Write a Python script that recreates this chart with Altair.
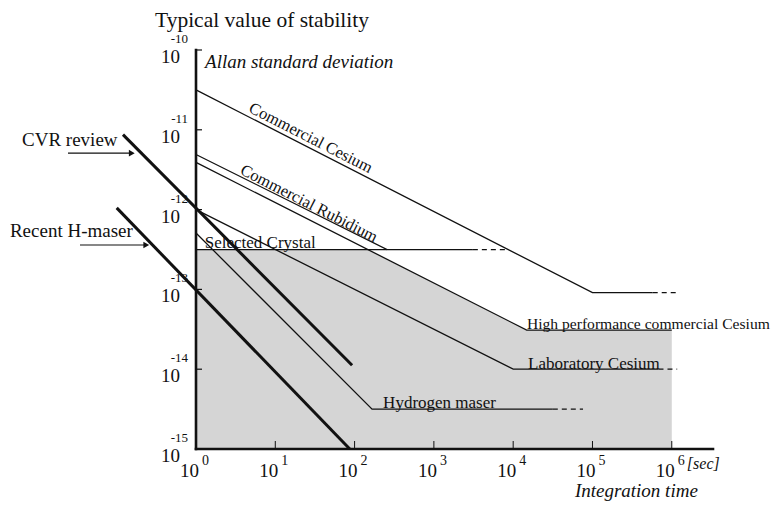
import altair as alt
import pandas as pd

FONT = "Liberation Serif"
INK = "#111111"

# ---------------- data ----------------
# (tau in seconds, sigma = Allan standard deviation)
cs_tau = [1, 1e5, 5.75e5]
cs_sig = [3.16e-11, 9.1e-14, 9.1e-14]
cs_dash_tau = [5.75e5, 1.26e6]
cs_dash_sig = [9.1e-14, 9.1e-14]

rb_tau = [1, 257, 3100]
rb_sig = [4.9e-12, 3.16e-13, 3.16e-13]
rb_dash_tau = [3100, 8500]
rb_dash_sig = [3.16e-13, 3.16e-13]

xtal_tau = [1, 257]
xtal_sig = [3.16e-13, 3.16e-13]

hpcs_tau = [1, 1.48e4, 1e6]
hpcs_sig = [3.9e-12, 3.09e-14, 3.09e-14]

labcs_tau = [1, 1e4, 6.8e5]
labcs_sig = [1e-12, 1e-14, 1e-14]
labcs_dash_tau = [6.8e5, 1.17e6]
labcs_dash_sig = [1e-14, 1e-14]

hm_tau = [1, 166, 3.16e4]
hm_sig = [5.1e-13, 3.16e-15, 3.16e-15]
hm_dash_tau = [3.16e4, 7.6e4]
hm_dash_sig = [3.16e-15, 3.16e-15]

cvr_tau = [0.12, 93]
cvr_sig = [8.7e-12, 1.12e-14]

rhm_tau = [0.1, 87]
rhm_sig = [1.05e-12, 1e-15]

shade_tau = [1, 145, 1.48e4, 1e6]
shade_top = [3.16e-13, 3.16e-13, 3.09e-14, 3.09e-14]
shade_floor = 1e-15

# axis extents
x_axis_tau = [1, 10 ** 6.52]
x_axis_sig = [1e-15, 1e-15]
y_axis_tau = [1, 1]
y_axis_sig = [1e-15, 1e-10]

# tick values and exponent labels
x_ticks = [1, 10, 100, 1e3, 1e4, 1e5, 1e6]
x_exps = ["0", "1", "2", "3", "4", "5", "6"]
y_ticks = [1e-10, 1e-11, 1e-12, 1e-13, 1e-14, 1e-15]
y_exps = ["-10", "-11", "-12", "-13", "-14", "-15"]

# labels along the curves
rot_text = ["Commercial  Cesium", "Commercial  Rubidium"]
rot_tau = [28, 26.6]
rot_sig = [7.9e-12, 1.19e-12]

flat_text = ["Selected  Crystal", "Laboratory   Cesium", "Hydrogen  maser"]
flat_tau = [1.29, 1.54e4, 229]
flat_sig = [3.35e-13, 1.0e-14, 3.24e-15]

hp_text = ["High performance commercial Cesium"]
hp_tau = [1.49e4]
hp_sig = [3.16e-14]

# annotations on the left with arrows
ann_text = ["CVR review", "Recent H-maser"]
ann_tau = [0.0064, 0.0045]
ann_sig = [6.3e-12, 4.6e-13]
arrow_tau0 = [0.0243, 0.0344]
arrow_tau1 = [0.155, 0.236]
arrow_sig = [5.1e-12, 3.6e-13]

title_text = ["Typical value of stability"]
title_tau = [0.304]
title_sig = [1.96e-10]

ytitle_text = ["Allan standard deviation"]
ytitle_tau = [1.30]
ytitle_sig = [5.96e-11]

xtitle_text = ["Integration time"]
xtitle_tau = [6.0e4]
xtitle_sig = [2.5e-16]

unit_text = ["[sec]"]
unit_tau = [1.55e6]
unit_sig = [5.6e-16]

# ---------------- tables ----------------
def seg(name, style, taus, sigs):
    return pd.DataFrame({"series": name, "style": style, "tau": taus, "sigma": sigs})

lines = pd.concat([
    seg("cs", "thin", cs_tau, cs_sig),
    seg("cs_d", "dash", cs_dash_tau, cs_dash_sig),
    seg("rb", "thin", rb_tau, rb_sig),
    seg("rb_d", "dash", rb_dash_tau, rb_dash_sig),
    seg("xtal", "thin", xtal_tau, xtal_sig),
    seg("hpcs", "thin", hpcs_tau, hpcs_sig),
    seg("labcs", "thin", labcs_tau, labcs_sig),
    seg("labcs_d", "dash", labcs_dash_tau, labcs_dash_sig),
    seg("hm", "thin", hm_tau, hm_sig),
    seg("hm_d", "dash", hm_dash_tau, hm_dash_sig),
    seg("cvr", "thick", cvr_tau, cvr_sig),
    seg("rhm", "thick", rhm_tau, rhm_sig),
    seg("xaxis", "axis", x_axis_tau, x_axis_sig),
    seg("yaxis", "axis", y_axis_tau, y_axis_sig),
], ignore_index=True)

shade = pd.DataFrame({"tau": shade_tau, "top": shade_top, "floor": shade_floor})

xs = alt.Scale(type="log", domain=[1, 10 ** 6.52], nice=False)
ys = alt.Scale(type="log", domain=[1e-15, 1e-10], nice=False)


def X(field="tau"):
    return alt.X(f"{field}:Q", scale=xs, axis=None)


def Y(field="sigma"):
    return alt.Y(f"{field}:Q", scale=ys, axis=None)


area = alt.Chart(shade).mark_area(color="#d5d5d5").encode(
    x=X(), y=Y("top"), y2="floor:Q",
)

base_lines = alt.Chart(lines)
thin = base_lines.transform_filter(alt.datum.style == "thin").mark_line(
    color=INK, strokeWidth=1.3).encode(x=X(), y=Y(), detail="series:N")
dash = base_lines.transform_filter(alt.datum.style == "dash").mark_line(
    color=INK, strokeWidth=1.2, strokeDash=[5, 4]).encode(x=X(), y=Y(), detail="series:N")
thick = base_lines.transform_filter(alt.datum.style == "thick").mark_line(
    color=INK, strokeWidth=3).encode(x=X(), y=Y(), detail="series:N")
axes = base_lines.transform_filter(alt.datum.style == "axis").mark_line(
    color=INK, strokeWidth=2.6, strokeCap="square").encode(x=X(), y=Y(), detail="series:N")

# axis ticks (inward)
xt = pd.DataFrame({"tau": x_ticks, "exp": x_exps})
yt = pd.DataFrame({"sigma": y_ticks, "exp": y_exps})

xtick_marks = alt.Chart(xt).mark_rule(color=INK, strokeWidth=1).encode(
    x=X(), y=alt.value(399), y2=alt.value(391))
ytick_marks = alt.Chart(yt).mark_rule(color=INK, strokeWidth=1.2).encode(
    y=Y(), x=alt.value(0), x2=alt.value(6))

xbase = alt.Chart(xt).mark_text(font=FONT, fontSize=19, align="right", dx=3,
                                baseline="alphabetic", color=INK).encode(
    x=X(), y=alt.value(427), text=alt.value("10"))
xexp = alt.Chart(xt).mark_text(font=FONT, fontSize=14, align="left", dx=6, color=INK).encode(
    x=X(), y=alt.value(411), text="exp:N")
ybase = alt.Chart(yt).mark_text(font=FONT, fontSize=19, align="right", dx=-16, dy=13,
                                baseline="alphabetic", color=INK).encode(
    y=Y(), x=alt.value(0), text=alt.value("10"))
yexp = alt.Chart(yt).mark_text(font=FONT, fontSize=13, align="right", dx=-8, dy=-7,
                               baseline="alphabetic", color=INK).encode(
    y=Y(), x=alt.value(0), text="exp:N")

rot = alt.Chart(pd.DataFrame({"tau": rot_tau, "sigma": rot_sig, "t": rot_text})).mark_text(
    font=FONT, fontSize=16.5, angle=27, align="center", baseline="middle", color=INK
).encode(x=X(), y=Y(), text="t:N")

flat = alt.Chart(pd.DataFrame({"tau": flat_tau, "sigma": flat_sig, "t": flat_text})).mark_text(
    font=FONT, fontSize=17, align="left", baseline="alphabetic", color=INK
).encode(x=X(), y=Y(), text="t:N")

hp = alt.Chart(pd.DataFrame({"tau": hp_tau, "sigma": hp_sig, "t": hp_text})).mark_text(
    font=FONT, fontSize=15.6, align="left", baseline="alphabetic", color=INK
).encode(x=X(), y=Y(), text="t:N")

ann = alt.Chart(pd.DataFrame({"tau": ann_tau, "sigma": ann_sig, "t": ann_text})).mark_text(
    font=FONT, fontSize=19, align="left", baseline="alphabetic", color=INK
).encode(x=X(), y=Y(), text="t:N")

arr = pd.DataFrame({"tau": arrow_tau0, "tau2": arrow_tau1, "sigma": arrow_sig})
arrow_shaft = alt.Chart(arr).mark_rule(color=INK, strokeWidth=1.2).encode(
    x=X(), x2="tau2:Q", y=Y())
arrow_head = alt.Chart(arr).mark_point(shape="triangle-right", filled=True, size=45,
                                       color=INK, opacity=1).encode(x=X("tau2"), y=Y())

title = alt.Chart(pd.DataFrame({"tau": title_tau, "sigma": title_sig, "t": title_text})).mark_text(
    font=FONT, fontSize=21.5, align="left", baseline="alphabetic", color=INK
).encode(x=X(), y=Y(), text="t:N")

ytitle = alt.Chart(pd.DataFrame({"tau": ytitle_tau, "sigma": ytitle_sig, "t": ytitle_text})).mark_text(
    font=FONT, fontSize=19, fontStyle="italic", align="left", baseline="alphabetic", color=INK
).encode(x=X(), y=Y(), text="t:N")

xtitle = alt.Chart(pd.DataFrame({"tau": xtitle_tau, "sigma": xtitle_sig, "t": xtitle_text})).mark_text(
    font=FONT, fontSize=19, fontStyle="italic", align="left", baseline="alphabetic", color=INK
).encode(x=X(), y=Y(), text="t:N")

unit = alt.Chart(pd.DataFrame({"tau": unit_tau, "sigma": unit_sig, "t": unit_text})).mark_text(
    font=FONT, fontSize=16, fontStyle="italic", align="left", baseline="alphabetic", color=INK
).encode(x=X(), y=Y(), text="t:N")

chart = alt.layer(
    area, thin, dash, thick, axes, xtick_marks, ytick_marks,
    xbase, xexp, ybase, yexp, rot, flat, hp, ann, arrow_shaft, arrow_head,
    title, ytitle, xtitle, unit,
).properties(
    width=517, height=399,
    autosize=alt.AutoSizeParams(type="none"),
    padding={"left": 188, "top": 42, "right": 61, "bottom": 53},
    background="white",
).configure_view(stroke=None)

chart.save("out.html", embed_options={"renderer": "svg", "actions": False})
